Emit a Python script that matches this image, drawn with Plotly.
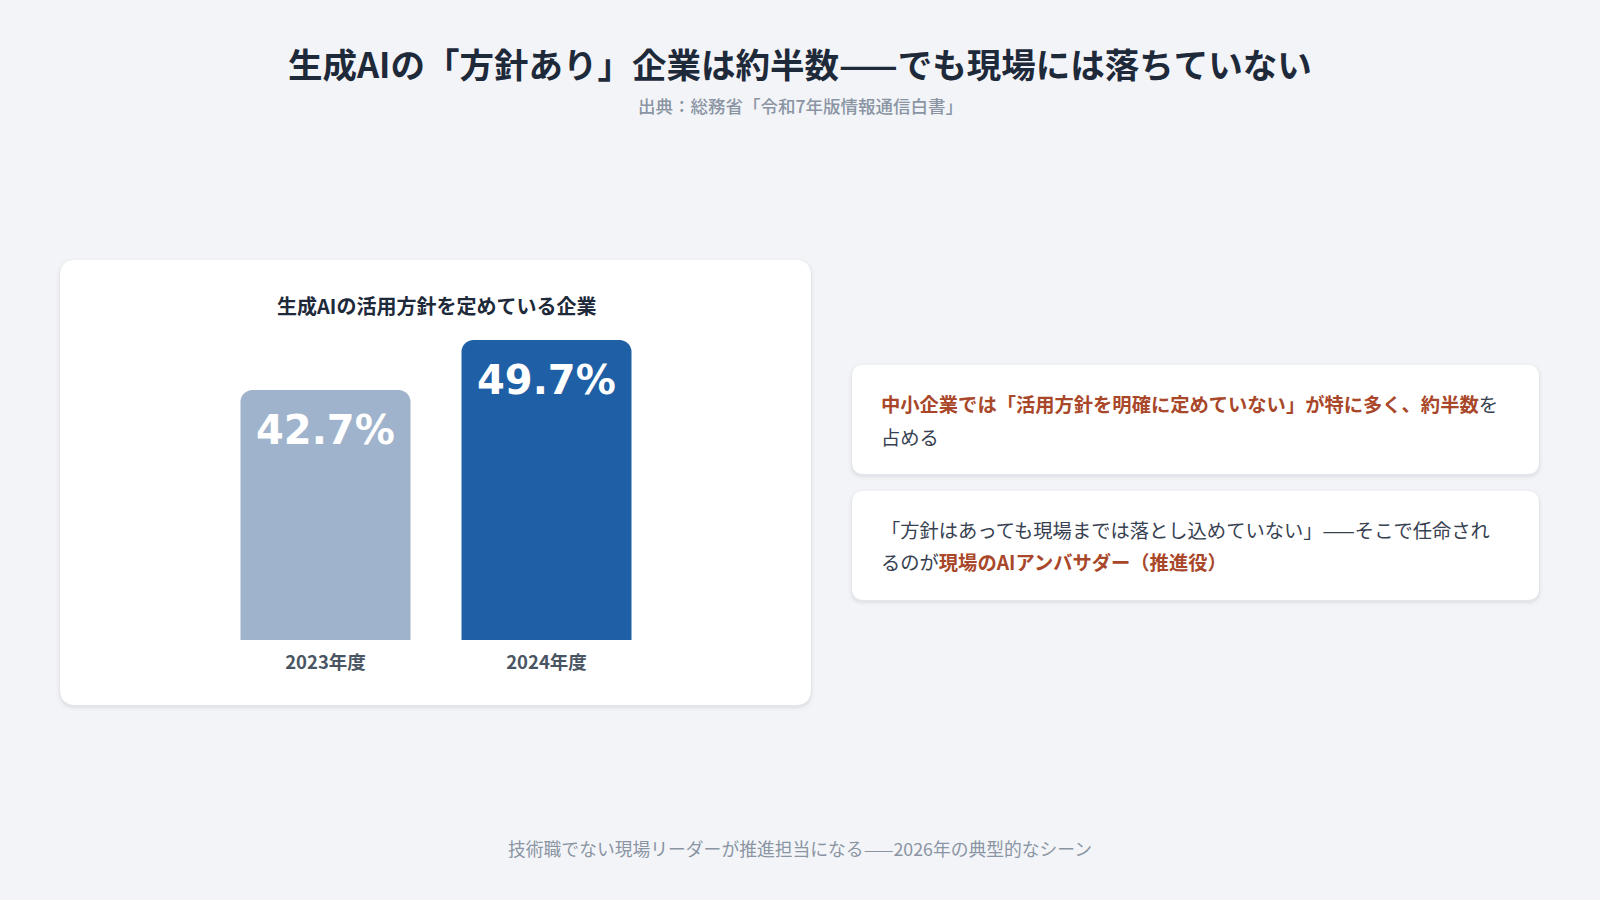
import plotly.graph_objects as go

# data
years = ["2023年度", "2024年度"]
shares = [42.7, 49.7]
share_labels = ["42.7%", "49.7%"]
bar_colors = ["#9fb4cc", "#1f5fa6"]

title = "生成AIの「方針あり」企業は約半数——でも現場には落ちていない"
subtitle = "出典：総務省「令和7年版情報通信白書」"
chart_title = "生成AIの活用方針を定めている企業"
footer = "技術職でない現場リーダーが推進担当になる——2026年の典型的なシーン"
card1_lines = [
    "<b>中小企業では「活用方針を明確に定めていない」が特に多く、約半数</b>を",
    "占める",
]
card2_lines = [
    "「方針はあっても現場までは落とし込めていない」——そこで任命され",
    "るのが<b>現場のAIアンバサダー（推進役）</b>",
]

W, H = 1600, 900
FONT = "Noto Sans CJK JP"
DARK = "#1e2a3a"
TEXT = "#374151"
GRAY = "#8a94a3"
RUST = "#a9472a"


def px(x):
    return x / W


def py(y):
    return 1 - y / H


def rounded(x0, y0, x1, y1, r):
    # rounded rect in pixel space -> paper path
    pts = [
        f"M {px(x0 + r)} {py(y0)}",
        f"L {px(x1 - r)} {py(y0)}",
        f"Q {px(x1)} {py(y0)} {px(x1)} {py(y0 + r)}",
        f"L {px(x1)} {py(y1 - r)}",
        f"Q {px(x1)} {py(y1)} {px(x1 - r)} {py(y1)}",
        f"L {px(x0 + r)} {py(y1)}",
        f"Q {px(x0)} {py(y1)} {px(x0)} {py(y1 - r)}",
        f"L {px(x0)} {py(y0 + r)}",
        f"Q {px(x0)} {py(y0)} {px(x0 + r)} {py(y0)}",
        "Z",
    ]
    return " ".join(pts)


def card(x0, y0, x1, y1, r):
    out = []
    # soft shadow
    for d, a in [(4, 0.015), (2, 0.025), (1, 0.03)]:
        out.append(dict(type="path", xref="paper", yref="paper",
                        path=rounded(x0 - d, y0 - d + 2, x1 + d, y1 + d + 2, r + d),
                        fillcolor=f"rgba(30,40,60,{a})", line=dict(width=0), layer="below"))
    out.append(dict(type="path", xref="paper", yref="paper",
                    path=rounded(x0, y0, x1, y1, r),
                    fillcolor="white", line=dict(width=0), layer="below"))
    return out


fig = go.Figure()
fig.add_trace(go.Bar(
    x=years, y=shares,
    marker=dict(color=bar_colors, cornerradius=12, line=dict(width=0)),
    hoverinfo="skip",
))

# axis scale: bars sit on a truncated baseline
base = 7.7
unit_px = 300 / 42.0
y_bottom, y_top = 640, 324
ymax = base + (y_bottom - y_top) / unit_px

fig.update_layout(
    width=W, height=H,
    margin=dict(l=0, r=0, t=0, b=0),
    paper_bgcolor="#f3f4f8",
    plot_bgcolor="rgba(0,0,0,0)",
    showlegend=False,
    bargap=51 / 221,
    font=dict(family=FONT, color=TEXT),
    xaxis=dict(domain=[px(215), px(657)], showgrid=False, zeroline=False,
               showline=False, ticks="", ticklabelstandoff=9,
               tickfont=dict(size=18.5, color="#4a5563", family=FONT, weight=700),
               fixedrange=True),
    yaxis=dict(domain=[py(y_bottom), py(y_top)], range=[base, ymax],
               visible=False, fixedrange=True),
)

shapes = []
shapes += card(60, 260, 811, 705, 16)
shapes += card(852, 365, 1539, 474, 12)
shapes += card(852, 491, 1539, 600, 12)
fig.update_layout(shapes=shapes)


def note(text, x, y, size, color, xanchor="center", weight=None):
    f = dict(size=size, color=color, family=FONT)
    if weight:
        f["weight"] = weight
    return dict(text=text, x=x, y=y, xref="paper", yref="paper",
                xanchor=xanchor, yanchor="middle", showarrow=False, font=f)


ann = []
ann.append(note(f"<b>{title}</b>", 0.5, py(63), 34.5, DARK))
ann.append(note(subtitle, 0.5, py(106), 17.5, GRAY, weight=500))
ann.append(note(f"<b>{chart_title}</b>", px(436), py(305), 20, DARK))
ann.append(note(footer, 0.5, py(848), 17.8, GRAY))

for yr, v, lab in zip(years, shares, share_labels):
    ann.append(dict(text=f"<b>{lab}</b>", x=yr, y=v, xref="x", yref="y",
                    xanchor="center", yanchor="top", yshift=-15, showarrow=False,
                    font=dict(size=40, color="white", family="DejaVu Sans")))

for lines, ys in [(card1_lines, [404, 437]), (card2_lines, [530, 562])]:
    for line, yy in zip(lines, ys):
        line = line.replace("<b>", f"<b><span style='color:{RUST}'>").replace("</b>", "</span></b>")
        ann.append(note(line, px(879), py(yy), 19.3, TEXT, xanchor="left"))

fig.update_layout(annotations=ann)

fig.write_html("out.html", config={"displayModeBar": False},
               post_script="document.body.style.margin='0';document.body.style.overflow='hidden';")
